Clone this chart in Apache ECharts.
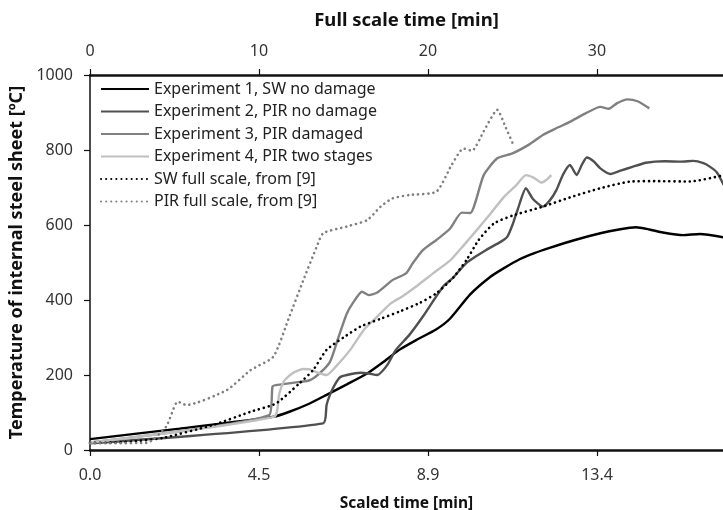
<!DOCTYPE html>
<html><head><meta charset="utf-8">
<script src="https://cdn.jsdelivr.net/npm/echarts@6/dist/echarts.min.js"></script>
<style>html,body{margin:0;padding:0;background:#fff}#c{width:723px;height:510px}</style>
</head><body><div id="c"></div>
<script>
// x values in full-scale minutes (top axis), y in °C
const exp1 = [[0,29],[5.3,57],[10.9,89],[11.8,102],[12.9,122],[14.0,147],[15.2,175],[16.4,204],[17.4,236],[18.3,267],[19.3,293],[20.5,322],[21.3,350],[22.5,415],[23.7,462],[24.5,485],[25.4,508],[26.3,525],[27.2,539],[28.7,560],[30.2,578],[31.3,588],[32.3,594],[33.1,588],[33.9,580],[35.1,573],[36.1,576],[37.5,567]];
const exp2 = [[0,18],[13.8,71],[14.0,120],[14.2,147],[14.5,175],[14.8,194],[15.2,200],[16.0,206],[16.5,204],[17.0,200],[17.6,227],[18.1,267],[18.9,307],[19.7,356],[20.9,436],[21.5,460],[22.3,500],[23.5,535],[24.3,555],[24.7,569],[25.0,600],[25.3,640],[25.8,698],[26.2,670],[26.8,649],[27.2,665],[27.6,693],[28.0,735],[28.4,760],[28.8,733],[29.1,760],[29.4,780],[29.8,770],[30.2,751],[30.8,736],[31.4,745],[32.1,755],[32.9,766],[34.0,770],[35.0,769],[35.7,771],[36.3,765],[36.7,755],[37.1,740],[37.5,707]];
const exp3 = [[0,20],[10.6,93],[10.8,169],[11.0,173],[12.0,179],[13.0,186],[13.6,205],[14.2,235],[14.7,300],[15.2,364],[15.6,395],[16.1,422],[16.5,413],[17.0,420],[17.9,453],[18.7,471],[19.1,498],[19.7,533],[20.5,560],[21.3,590],[22.0,633],[22.5,632],[23.3,733],[24.1,778],[25.0,791],[26.0,815],[26.8,840],[27.6,858],[28.4,875],[29.3,897],[30.2,915],[30.7,910],[31.2,925],[31.8,935],[32.4,930],[33.1,911]];
const exp4 = [[0,20],[10.9,89],[11.2,150],[11.5,185],[12.0,205],[12.6,216],[13.0,215],[13.5,206],[14.0,200],[14.6,225],[15.4,267],[16.2,320],[16.8,347],[17.8,391],[18.5,410],[19.3,436],[20.3,471],[21.3,505],[22.1,545],[22.9,587],[23.7,630],[24.5,675],[25.2,705],[25.8,733],[26.3,725],[26.7,713],[27.0,720],[27.3,733]];
const swFull = [[0,19],[1.5,20],[3.0,25],[4.3,32],[7.3,67],[9.5,102],[11.0,124],[12.4,178],[13.2,213],[14.0,267],[15.0,300],[16.0,329],[17.2,350],[18.3,369],[19.5,392],[20.5,418],[21.5,460],[22.3,508],[23.0,560],[23.9,604],[25.0,625],[26.8,649],[28.5,675],[30.2,698],[32.0,716],[33.5,717],[35.5,716],[37.5,733]];
const pirFull = [[0,18],[3.35,19],[4.5,62],[5.2,129],[5.7,120],[8.1,160],[9.5,213],[10.85,249],[11.8,356],[12.6,450],[13.4,540],[13.8,578],[15.2,596],[16.4,613],[17.2,649],[17.9,671],[18.9,680],[20.5,689],[21.4,760],[22.1,804],[22.6,798],[23.3,850],[24.1,907],[24.6,860],[25.1,809]];
const seriesNames = ['Experiment 1, SW no damage','Experiment 2, PIR no damage','Experiment 3, PIR damaged','Experiment 4, PIR two stages','SW full scale, from [9]','PIR full scale, from [9]'];
const scaledTicks = [0, 4.4721, 8.9443, 13.4164];
const fullTicks = [0, 10, 20, 30];

const FONT = 'Noto Sans';
const chart = echarts.init(document.getElementById('c'));
function solid(name, data, color){
  return {name, type:'line', data, xAxisIndex:1, showSymbol:false, symbol:'none', smooth:0.2,
    lineStyle:{color, width:2.4}, itemStyle:{color}};
}
function dotted(name, data, color){
  return {name, type:'line', data, xAxisIndex:1, showSymbol:false, symbol:'none', smooth:0.2,
    lineStyle:{color, width:2.6, type:[0.1,5], cap:'round'}, itemStyle:{color}};
}
chart.setOption({
  animation:false,
  backgroundColor:'#fff',
  grid:{left:90, right:0, top:75, bottom:60, containLabel:false, outerBoundsMode:'none'},
  legend:{orient:'vertical', left:95, top:75, itemWidth:48, itemHeight:14, itemGap:4.5, itemTextGap:5,
    itemStyle:{opacity:0},
    textStyle:{fontFamily:FONT, fontSize:16, color:'#222', lineHeight:18}, data:seriesNames},
  xAxis:[
    {type:'value', position:'bottom', min:0, max:16.75, interval:4.4721,
     name:'Scaled time [min]', nameLocation:'middle', nameGap:46,
     nameTextStyle:{fontFamily:FONT, fontSize:15.5, fontWeight:'bold', color:'#111'},
     axisLine:{lineStyle:{color:'#111', width:2.5}}, axisTick:{length:6, lineStyle:{color:'#111', width:1.2}},
     splitLine:{show:false},
     axisLabel:{margin:17, fontFamily:FONT, fontSize:16, color:'#333', showMaxLabel:false,
       formatter:v=>{ for(const t of scaledTicks){ if(Math.abs(v-t)<0.01) return t.toFixed(1);} return ''; }}},
    {type:'value', position:'top', min:0, max:37.46, interval:10,
     name:'Full scale time [min]', nameLocation:'middle', nameGap:45,
     nameTextStyle:{fontFamily:FONT, fontSize:18.5, fontWeight:'bold', color:'#111'},
     axisLine:{lineStyle:{color:'#111', width:2.5}}, axisTick:{length:6, lineStyle:{color:'#111', width:1.2}},
     splitLine:{show:false},
     axisLabel:{margin:16, fontFamily:FONT, fontSize:16, color:'#333', showMaxLabel:false,
       formatter:v=>{ for(const t of fullTicks){ if(Math.abs(v-t)<0.01) return String(t);} return ''; }}}
  ],
  yAxis:{type:'value', min:0, max:1000, interval:200,
    name:'Temperature of internal steel sheet [ºC]', nameLocation:'middle', nameGap:61,
    nameTextStyle:{fontFamily:FONT, fontSize:18, fontWeight:'bold', color:'#111'},
    axisLine:{show:true, lineStyle:{color:'#111', width:1.5}}, axisTick:{show:true, length:6, lineStyle:{color:'#111', width:1.2}},
    splitLine:{show:false},
    axisLabel:{margin:17, fontFamily:FONT, fontSize:16, color:'#333', formatter:v=>String(v)}},
  series:[
    solid(seriesNames[0], exp1, '#000000'),
    solid(seriesNames[1], exp2, '#505050'),
    solid(seriesNames[2], exp3, '#808080'),
    solid(seriesNames[3], exp4, '#c0c0c0'),
    dotted(seriesNames[4], swFull, '#000000'),
    dotted(seriesNames[5], pirFull, '#808080')
  ]
});
</script></body></html>
